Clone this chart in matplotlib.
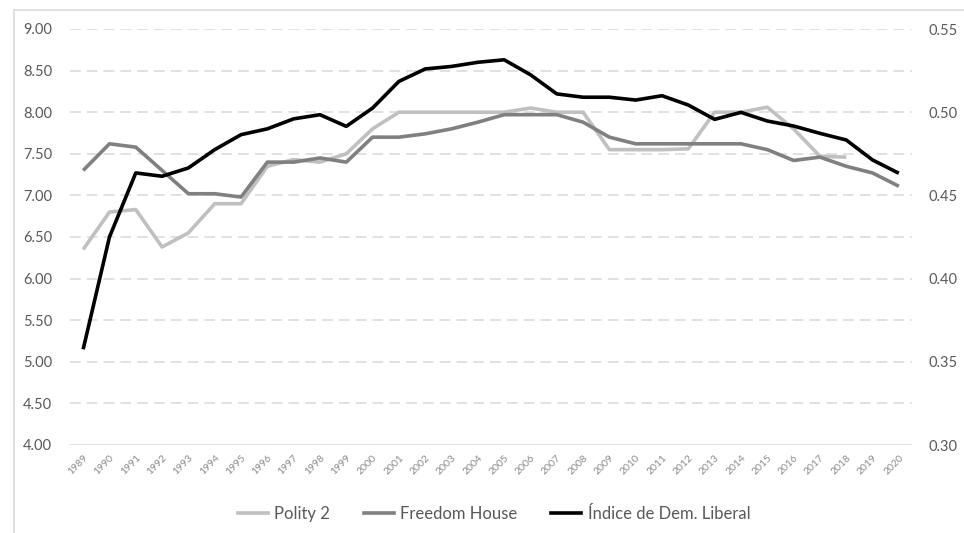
import matplotlib
matplotlib.use("Agg")
import matplotlib.pyplot as plt
from matplotlib.lines import Line2D

years = [str(y) for y in range(1989, 2021)]
polity2 = [6.35, 6.80, 6.83, 6.38, 6.55, 6.90, 6.90, 7.35, 7.43, 7.40, 7.50, 7.80,
           8.00, 8.00, 8.00, 8.00, 8.00, 8.05, 8.00, 8.00, 7.55, 7.55, 7.55, 7.56,
           8.00, 8.00, 8.06, 7.80, 7.47, 7.46]
freedom_house = [7.30, 7.62, 7.58, 7.30, 7.02, 7.02, 6.98, 7.40, 7.40, 7.45, 7.40, 7.70,
                 7.70, 7.74, 7.80, 7.88, 7.97, 7.97, 7.97, 7.88, 7.70, 7.62, 7.62, 7.62,
                 7.62, 7.62, 7.55, 7.42, 7.46, 7.35, 7.27, 7.11]
liberal_dem = [0.3575, 0.425, 0.4635, 0.4615, 0.4665, 0.4775, 0.4865, 0.490, 0.496, 0.4985,
               0.4915, 0.5025, 0.5185, 0.526, 0.5275, 0.530, 0.5315, 0.5225, 0.511, 0.509,
               0.509, 0.5073, 0.5099, 0.5043, 0.4957, 0.4999, 0.4947, 0.4917, 0.4873,
               0.4833, 0.4713, 0.4633]

left_ticks = [4.0 + 0.5 * i for i in range(11)]
right_ticks = [0.30, 0.35, 0.40, 0.45, 0.50, 0.55]

plt.rcParams['font.family'] = ['Lato', 'DejaVu Sans']

fig = plt.figure(figsize=(9.64, 5.33), dpi=100)
ax = fig.add_axes([70/964, 1-445/533, (912-70)/964, (445-29)/533])
ax2 = ax.twinx()

x = list(range(len(years)))
c_pol = '#c0c0c0'
c_fh = '#808080'
c_ld = '#000000'

ax.plot(x[:len(polity2)], polity2, color=c_pol, lw=2.6, solid_capstyle='butt', zorder=3)
ax.plot(x, freedom_house, color=c_fh, lw=2.6, solid_capstyle='butt', zorder=3)
ax2.plot(x, liberal_dem, color=c_ld, lw=2.6, solid_capstyle='butt', zorder=4)

ax.set_xlim(-0.5, len(years) - 0.5)
ax.set_ylim(4.0, 9.0)
ax2.set_ylim(0.30, 0.55)

ax.set_yticks(left_ticks)
ax.set_yticklabels([f"{v:.2f}" for v in left_ticks])
ax2.set_yticks(right_ticks)
ax2.set_yticklabels([f"{v:.2f}" for v in right_ticks])

ax.set_xticks(x)
ax.set_xticklabels(years, rotation=45, ha='right', va='top', rotation_mode='anchor',
                   fontsize=7.5, color='#8c8c8c')

for a in (ax, ax2):
    for s in a.spines.values():
        s.set_visible(False)
    a.tick_params(axis='both', length=0)
ax.tick_params(axis='y', labelsize=10.5, labelcolor='#595959', pad=13)
ax2.tick_params(axis='y', labelsize=10.5, labelcolor='#595959', pad=12)
ax.tick_params(axis='x', pad=6)

for v in left_ticks[1:]:
    ax.axhline(v, color='#d9d9d9', lw=1.1, ls=(0, (7, 4)), zorder=1)
ax.axhline(4.0, color='#d9d9d9', lw=1.1, zorder=1)

handles = [Line2D([], [], color=c_pol, lw=2.6),
           Line2D([], [], color=c_fh, lw=2.6),
           Line2D([], [], color=c_ld, lw=2.6)]
labels = ['Polity 2', 'Freedom House', 'Índice de Dem. Liberal']
leg = fig.legend(handles, labels, loc='center', bbox_to_anchor=(494/964, 1-514/533),
                 ncol=3, frameon=False, fontsize=12, handlelength=1.8, handletextpad=0.4,
                 columnspacing=2.0)
for t in leg.get_texts():
    t.set_color('#595959')

# outer frame (left and top edges)
fig.add_artist(Line2D([14/964, 14/964], [0, 1-10/533], transform=fig.transFigure,
                      color='#d9d9d9', lw=1.2))
fig.add_artist(Line2D([14/964, 1], [1-10/533, 1-10/533], transform=fig.transFigure,
                      color='#d9d9d9', lw=1.2))

fig.savefig('out.png', dpi=100)
